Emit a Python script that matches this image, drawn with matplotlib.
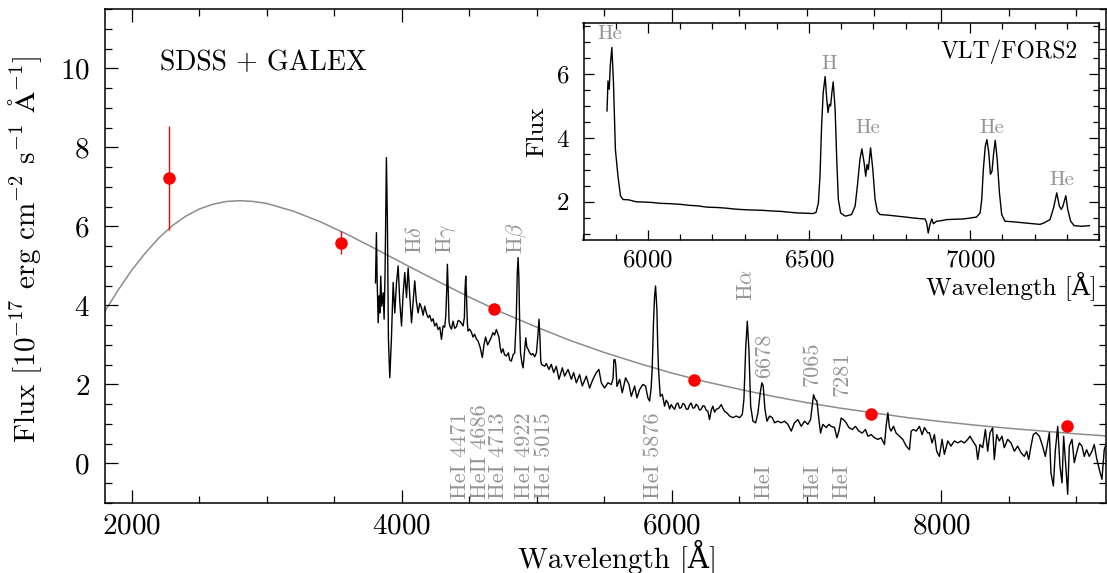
import matplotlib
matplotlib.use("Agg")
import matplotlib.pyplot as plt
from matplotlib.ticker import MultipleLocator

plt.rcParams.update({
    "font.family": ["cmr10", "DejaVu Serif"],
    "mathtext.fontset": "cm",
    "axes.formatter.use_mathtext": True,
})

# ---------------- SDSS spectrum (wavelength in Angstrom, flux in 1e-17 cgs) ----------------
sdss_wave = [
    3805, 3812, 3817, 3825, 3832, 3837, 3844, 3851, 3862, 3869, 3876, 3886, 3893, 3901, 3911,
    3923, 3936, 3948, 3961, 3973, 3985, 3998, 4010, 4022, 4035, 4047, 4060, 4072, 4084, 4096,
    4108, 4121, 4133, 4146, 4158, 4170, 4183, 4195, 4207, 4220, 4232, 4244, 4257, 4269, 4282,
    4294, 4306, 4318, 4326, 4333, 4338, 4344, 4350, 4356, 4368, 4380, 4392, 4405, 4418, 4430,
    4442, 4454, 4464, 4469, 4474, 4480, 4486, 4491, 4503, 4516, 4528, 4540, 4553, 4565, 4580,
    4597, 4609, 4621, 4636, 4651, 4664, 4676, 4688, 4701, 4710, 4720, 4729, 4738, 4750, 4762,
    4775, 4790, 4800, 4812, 4825, 4837, 4848, 4856, 4862, 4868, 4874, 4880, 4890, 4899, 4910,
    4919, 4927, 4935, 4948, 4960, 4972, 4985, 4998, 5008, 5017, 5024, 5030, 5035, 5059, 5071,
    5091, 5108, 5126, 5145, 5165, 5190, 5207, 5232, 5257, 5274, 5294, 5318, 5338, 5368, 5392,
    5417, 5442, 5461, 5479, 5503, 5528, 5553, 5566, 5572, 5580, 5586, 5595, 5615, 5634, 5659,
    5684, 5701, 5726, 5743, 5763, 5787, 5807, 5824, 5837, 5848, 5856, 5866, 5874, 5881, 5891,
    5897, 5903, 5916, 5931, 5948, 5960, 5973, 5985, 5997, 6010, 6022, 6035, 6047, 6059, 6071,
    6084, 6096, 6108, 6121, 6133, 6145, 6158, 6170, 6182, 6195, 6207, 6219, 6232, 6244, 6256,
    6269, 6281, 6294, 6306, 6318, 6331, 6350, 6368, 6380, 6392, 6410, 6430, 6455, 6479, 6504,
    6524, 6536, 6549, 6561, 6573, 6586, 6603, 6623, 6640, 6657, 6669, 6679, 6692, 6707, 6726,
    6746, 6763, 6788, 6813, 6837, 6862, 6887, 6911, 6936, 6961, 6985, 7010, 7030, 7042, 7052,
    7065, 7077, 7092, 7104, 7121, 7146, 7166, 7183, 7208, 7225, 7240, 7257, 7274, 7294, 7314,
    7339, 7363, 7388, 7413, 7437, 7455, 7479, 7504, 7529, 7553, 7578, 7590, 7603, 7615, 7627,
    7645, 7664, 7689, 7714, 7739, 7763, 7776, 7793, 7813, 7837, 7857, 7874, 7899, 7911, 7931,
    7948, 7965, 7985, 8005, 8022, 8047, 8071, 8096, 8121, 8146, 8170, 8195, 8212, 8232, 8257,
    8269, 8286, 8306, 8326, 8343, 8360, 8380, 8392, 8410, 8429, 8449, 8466, 8491, 8516, 8541,
    8565, 8590, 8615, 8632, 8647, 8664, 8681, 8701, 8726, 8750, 8770, 8787, 8800, 8812, 8830,
    8844, 8862, 8879, 8894, 8906, 8923, 8936, 8948, 8968, 8985, 9002, 9022, 9042, 9059, 9076,
    9096, 9116, 9133, 9150, 9170, 9190, 9207, 9220,
]
sdss_flux = [
    4.57, 5.84, 4.68, 3.56, 4.24, 3.81, 4.74, 3.98, 4.32, 3.65, 4.83, 7.74, 6.20, 3.14, 2.17,
    3.14, 4.58, 3.81, 4.58, 5.00, 4.10, 3.48, 4.30, 4.83, 4.20, 4.95, 4.20, 3.56, 4.10, 4.62,
    4.10, 3.81, 4.05, 3.94, 3.75, 3.98, 3.80, 3.69, 3.75, 3.60, 3.66, 3.48, 3.55, 3.39, 3.45,
    3.14, 3.48, 3.45, 3.73, 4.40, 5.04, 4.40, 3.60, 3.48, 3.40, 3.60, 3.42, 3.46, 3.62, 3.60,
    3.55, 3.48, 3.70, 4.40, 4.74, 4.20, 3.55, 3.35, 3.40, 3.32, 3.20, 3.27, 3.15, 3.10, 2.95,
    2.68, 3.00, 3.20, 3.00, 3.10, 3.20, 3.31, 3.25, 3.39, 3.30, 3.20, 2.95, 2.80, 2.90, 2.75,
    2.72, 2.80, 2.62, 2.59, 2.75, 2.80, 3.60, 4.80, 5.21, 4.70, 3.50, 2.80, 2.55, 2.42, 2.85,
    3.18, 2.95, 2.90, 2.80, 2.75, 2.78, 2.70, 2.80, 3.20, 3.65, 3.20, 2.60, 2.51, 2.46, 2.53,
    2.38, 2.51, 2.30, 2.46, 2.13, 2.42, 2.21, 2.38, 2.13, 2.30, 2.04, 2.25, 1.96, 2.21, 1.91,
    2.13, 2.30, 2.38, 2.04, 1.91, 2.04, 2.00, 2.15, 2.62, 2.63, 2.50, 1.95, 2.13, 1.79, 2.17,
    2.00, 1.70, 1.96, 1.66, 1.87, 2.00, 1.96, 1.66, 1.58, 1.90, 2.38, 3.60, 4.24, 4.49, 3.90,
    3.00, 2.38, 1.70, 1.75, 1.45, 1.60, 1.53, 1.38, 1.49, 1.42, 1.37, 1.50, 1.53, 1.40, 1.41,
    1.52, 1.49, 1.38, 1.37, 1.48, 1.53, 1.40, 1.41, 1.50, 1.45, 1.35, 1.37, 1.46, 1.45, 1.35,
    1.32, 1.11, 1.35, 1.45, 1.30, 1.37, 1.40, 1.49, 1.40, 1.32, 1.28, 1.20, 1.16, 1.20, 1.16,
    1.24, 1.62, 2.89, 3.60, 2.89, 1.45, 1.07, 1.03, 1.28, 1.79, 2.04, 1.97, 1.37, 1.07, 1.20,
    1.16, 1.03, 1.07, 1.03, 1.07, 0.99, 0.82, 1.03, 1.11, 0.94, 1.07, 0.99, 1.11, 1.45, 1.74,
    1.62, 1.58, 1.11, 0.77, 0.99, 0.91, 0.99, 0.94, 0.91, 0.65, 0.82, 1.15, 1.11, 1.03, 0.91,
    0.86, 0.94, 0.82, 0.77, 0.86, 0.69, 0.73, 0.65, 0.61, 0.65, 0.48, 0.94, 1.28, 0.91, 0.82,
    0.94, 0.77, 0.69, 0.61, 0.44, 0.35, 0.82, 0.86, 0.82, 0.94, 0.73, 0.91, 0.77, 0.78, 0.52,
    0.73, 0.31, 0.18, 0.61, 0.23, 0.57, 0.44, 0.57, 0.52, 0.57, 0.52, 0.61, 0.69, 0.57, 0.44,
    0.10, 0.48, 0.40, 0.86, 0.31, 0.78, 0.90, 0.10, 0.73, 0.57, 0.69, 0.40, 0.61, 0.52, 0.31,
    0.44, 0.27, 0.18, 0.31, 0.10, 0.44, 0.73, 0.78, 0.69, 0.44, 0.18, 0.52, 0.78, -0.24, -0.57,
    0.31, 0.94, -0.07, -0.49, 0.69, -0.11, -0.78, 0.44, 0.61, 0.02, 0.27, 0.52, 0.44, 0.18, 0.35,
    0.18, 0.31, 0.48, 0.14, -0.15, -0.40, 0.35, 0.48,
]

# ---------------- GALEX NUV + SDSS ugriz photometry ----------------
phot_wave = [2271, 3551, 4686, 6166, 7480, 8932]
phot_flux = [7.23, 5.59, 3.92, 2.11, 1.26, 0.94]
phot_err = [1.32, 0.30, 0.0, 0.0, 0.0, 0.0]

# ---------------- blackbody fit to the photometry ----------------
bb_wave = [1800, 1900, 2000, 2100, 2200, 2300, 2400, 2500, 2600, 2700, 2800, 2900, 3000,
           3200, 3400, 3600, 3800, 4000, 4250, 4500, 4750, 5000, 5250, 5500, 5750, 6000,
           6250, 6500, 6750, 7000, 7250, 7500, 7750, 8000, 8250, 8500, 8750, 9000, 9250]
bb_flux = [3.86, 4.40, 4.90, 5.33, 5.71, 6.02, 6.26, 6.44, 6.56, 6.63, 6.65, 6.63, 6.58,
           6.38, 6.11, 5.79, 5.44, 5.08, 4.64, 4.21, 3.81, 3.45, 3.11, 2.81, 2.54, 2.29,
           2.07, 1.88, 1.70, 1.54, 1.40, 1.28, 1.16, 1.06, 0.97, 0.89, 0.82, 0.75, 0.69]

# ---------------- VLT/FORS2 spectrum (inset) ----------------
fors_wave = [
    5873, 5876, 5880, 5883, 5888, 5893, 5899, 5907, 5915, 5923, 5940, 5963, 5990, 6010, 6040,
    6068, 6100, 6126, 6155, 6184, 6215, 6242, 6270, 6300, 6330, 6358, 6385, 6410, 6440, 6462,
    6490, 6513, 6522, 6529, 6534, 6539, 6544, 6550, 6555, 6559, 6563, 6567, 6571, 6575, 6581,
    6586, 6591, 6598, 6612, 6622, 6632, 6643, 6650, 6658, 6664, 6671, 6676, 6680, 6684, 6691,
    6698, 6705, 6712, 6720, 6745, 6772, 6800, 6824, 6845, 6860, 6865, 6870, 6875, 6881, 6886,
    6896, 6907, 6927, 6950, 6979, 7000, 7020, 7031, 7036, 7041, 7047, 7052, 7058, 7063, 7068,
    7073, 7078, 7084, 7091, 7098, 7108, 7134, 7165, 7196, 7217, 7230, 7248, 7259, 7269, 7277,
    7283, 7288, 7297, 7303, 7312, 7323, 7347, 7370,
]
fors_flux = [
    4.85, 5.79, 5.53, 6.26, 6.84, 5.74, 3.64, 2.80, 2.18, 2.07, 2.06, 2.00, 1.99, 1.98, 1.95,
    1.94, 1.92, 1.89, 1.87, 1.83, 1.82, 1.80, 1.77, 1.75, 1.74, 1.73, 1.71, 1.70, 1.67, 1.65,
    1.64, 1.63, 1.67, 1.96, 2.80, 4.38, 5.43, 5.93, 5.22, 4.80, 5.06, 5.01, 5.43, 5.76, 4.90,
    3.33, 2.07, 1.65, 1.55, 1.57, 1.60, 1.86, 2.49, 3.33, 3.66, 3.22, 2.80, 3.17, 3.01, 3.69,
    3.01, 2.07, 1.70, 1.60, 1.58, 1.55, 1.52, 1.49, 1.47, 1.46, 1.34, 1.02, 1.28, 1.46, 1.31,
    1.39, 1.40, 1.44, 1.45, 1.46, 1.49, 1.52, 1.65, 2.07, 3.01, 3.74, 3.95, 3.53, 2.86, 2.96,
    3.53, 3.93, 3.33, 2.28, 1.60, 1.39, 1.37, 1.34, 1.31, 1.29, 1.34, 1.44, 1.81, 2.28, 1.86,
    1.76, 1.86, 2.19, 1.76, 1.39, 1.25, 1.23, 1.25,
]

# ---------------- line identifications ----------------
upper_ids = ["H$\\delta$", "H$\\gamma$", "H$\\beta$", "H$\\alpha$", "6678", "7065", "7281"]
upper_wave = [4095, 4330, 4852, 6552, 6684, 7041, 7263]
upper_base = [5.29, 5.30, 5.30, 4.11, 2.17, 1.96, 1.70]

lower_ids = ["HeI 4471", "HeII 4686", "HeI 4713", "HeI 4922", "HeI 5015", "HeI 5876",
             "HeI", "HeI", "HeI"]
lower_wave = [4430, 4578, 4713, 4904, 5059, 5861, 6684, 7046, 7263]

inset_ids = ["He", "H", "He", "He", "He"]
inset_wave = [5882, 6563, 6682, 7068, 7284]
inset_pos = [7.26, 6.31, 4.32, 4.32, 2.67]

ID_GRAY = "#959595"

fig = plt.figure(figsize=(11.07, 5.73), dpi=100)
ax = fig.add_axes([105 / 1107, 70 / 573, 1001 / 1107, 494 / 573])

ax.plot(bb_wave, bb_flux, color="#8c8c8c", lw=1.1, zorder=1)
ax.plot(sdss_wave, sdss_flux, color="black", lw=1.0, zorder=2)
ax.errorbar(phot_wave, phot_flux, yerr=phot_err, fmt="o", color="red", ms=8,
            elinewidth=1.0, capsize=0, zorder=3)

for txt, w, f in zip(upper_ids, upper_wave, upper_base):
    ax.text(w, f, txt, rotation=90, ha="center", va="bottom", color=ID_GRAY, fontsize=16)
for txt, w in zip(lower_ids, lower_wave):
    ax.text(w, -0.91, txt, rotation=90, ha="center", va="bottom", color=ID_GRAY,
            fontsize=16)

ax.text(0.055, 0.891, "SDSS + GALEX", transform=ax.transAxes, ha="left", va="center",
        fontsize=20)

ax.set_xlim(1800, 9220)
ax.set_ylim(-1, 11.5)
ax.xaxis.set_major_locator(MultipleLocator(2000))
ax.xaxis.set_minor_locator(MultipleLocator(500))
ax.yaxis.set_major_locator(MultipleLocator(2))
ax.yaxis.set_minor_locator(MultipleLocator(0.5))
ax.tick_params(which="both", direction="in", top=True, right=True, width=0.9)
ax.tick_params(which="major", length=9.5, labelsize=21)
ax.tick_params(which="minor", length=5)
ax.tick_params(axis="x", pad=7)
ax.tick_params(axis="y", pad=11)
for sp in ax.spines.values():
    sp.set_linewidth(1.1)

ax.set_xlabel("Wavelength [Å]", fontsize=21, va="baseline")
ax.xaxis.set_label_coords(0.512, -0.1316)
ax.set_ylabel(r"Flux [10$^{-17}$ erg cm$^{-2}$ s$^{-1}$ $\mathrm{\AA}^{-1}$]", fontsize=21,
              va="baseline")
ax.yaxis.set_label_coords(-0.0699, 0.514)

# ---------------- inset ----------------
ins = fig.add_axes([583.5 / 1107, 333 / 573, 515.5 / 1107, 216.7 / 573])
ins.set_facecolor("white")
ins.plot(fors_wave, fors_flux, color="black", lw=1.0)
for txt, w, f in zip(inset_ids, inset_wave, inset_pos):
    ins.text(w, f, txt, ha="center", va="center", color=ID_GRAY, fontsize=15)
ins.text(0.959, 0.8385, "VLT/FORS2", transform=ins.transAxes, ha="right", va="baseline",
         fontsize=17)
ins.set_xlim(5800, 7400)
ins.set_ylim(0.8, 7.6)
ins.xaxis.set_major_locator(MultipleLocator(500))
ins.xaxis.set_minor_locator(MultipleLocator(100))
ins.yaxis.set_major_locator(MultipleLocator(2))
ins.yaxis.set_minor_locator(MultipleLocator(0.5))
ins.tick_params(which="both", direction="in", top=True, right=True, width=0.9)
ins.tick_params(which="major", length=7.5, labelsize=18)
ins.tick_params(which="minor", length=4.5)
ins.tick_params(axis="x", pad=7)
ins.tick_params(axis="y", pad=10)
for sp in ins.spines.values():
    sp.set_linewidth(1.1)
ins.set_xlabel("Wavelength [Å]", fontsize=18, ha="right", va="baseline")
ins.xaxis.set_label_coords(0.996, -0.254)
ins.set_ylabel("Flux", fontsize=18, va="baseline")
ins.yaxis.set_label_coords(-0.0786, 0.5)

fig.savefig("out.png", dpi=100)
